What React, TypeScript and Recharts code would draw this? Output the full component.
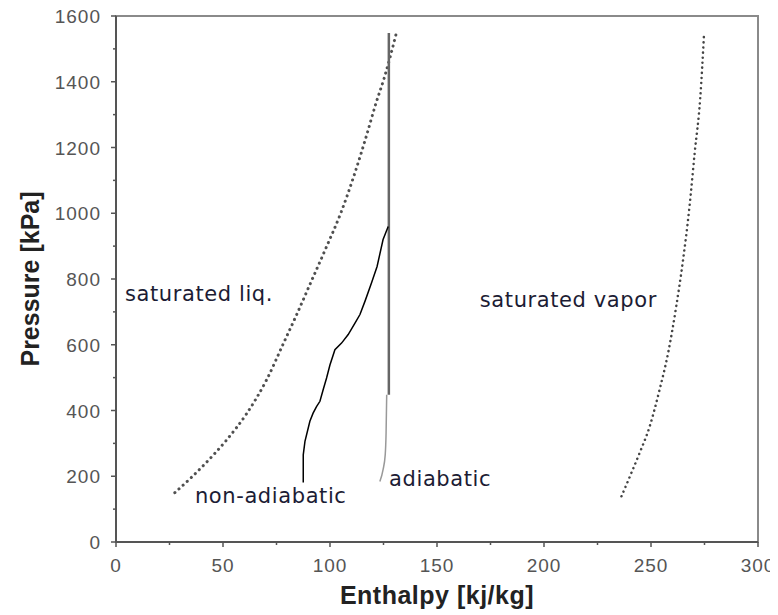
import { LineChart, Line, XAxis, YAxis, ReferenceArea, ReferenceDot, Label } from "recharts";

// enthalpy [kJ/kg] and pressure [kPa]
const satLiquidH = [27.5, 35, 42.5, 51.5, 61, 70.5, 78.3, 84.3, 91.4, 98.5, 105, 111.5, 117, 121.5, 125.5, 128.3, 131];
const satLiquidP = [150, 195, 244, 309, 390, 495, 605, 690, 795, 900, 1000, 1120, 1235, 1335, 1415, 1480, 1548];

const satVaporH = [236.2, 240.5, 244.7, 249.4, 254, 258, 261.8, 265, 268, 270.4, 273, 274.8];
const satVaporP = [139, 205, 271, 352, 463, 575, 717, 859, 1021, 1183, 1350, 1548];

const nonAdiabaticH = [87.5, 87.5, 88.3, 90.6, 92.1, 93.7, 95.3, 96.8, 98.4, 100, 102.3, 105.4, 108.5, 111.6, 114, 116.5, 119.5, 122, 124.8, 127.2];
const nonAdiabaticP = [181, 265, 306, 367, 392, 412, 428, 463, 499, 539, 585, 605, 631, 665, 692, 735, 790, 838, 920, 960];

const adiabaticLowH = [123.3, 124.8, 125.8, 126.2, 126.5];
const adiabaticLowP = [184, 220, 265, 330, 448];
const adiabaticHighH = [127.5, 127.5];
const adiabaticHighP = [448, 1548];

const xTicks = [0, 25, 50, 75, 100, 125, 150, 175, 200, 225, 250, 275, 300];
const yTicks = [0, 100, 200, 300, 400, 500, 600, 700, 800, 900, 1000, 1100, 1200, 1300, 1400, 1500, 1600];

const notes = [
  { text: "saturated liq.", h: 4.2, p: 732 },
  { text: "saturated vapor", h: 170, p: 716 },
  { text: "non-adiabatic", h: 36.9, p: 120 },
  { text: "adiabatic", h: 127.6, p: 169 },
];

const toRows = (hs: number[], ps: number[]) => hs.map((h, i) => ({ h, p: ps[i] }));

const satLiquid = toRows(satLiquidH, satLiquidP);
const satVapor = toRows(satVaporH, satVaporP);
const nonAdiabatic = toRows(nonAdiabaticH, nonAdiabaticP);
const adiabaticLow = toRows(adiabaticLowH, adiabaticLowP);
const adiabaticHigh = toRows(adiabaticHighH, adiabaticHighP);

const tickFont = { fontFamily: "'Liberation Sans', Arial, sans-serif", fontSize: 19, fill: "#555", letterSpacing: 1 };
const titleFont = { fontFamily: "'Liberation Sans', Arial, sans-serif", fontWeight: "bold", fontSize: 25, fill: "#222" };

const XTick = ({ x, y, payload }: any) => {
  const major = payload.value % 50 === 0;
  return (
    <g>
      <line x1={x} y1={y} x2={x} y2={y + (major ? 5 : 3)} stroke="#555" strokeWidth={1.5} />
      {major && (
        <text x={x} y={y + 30} textAnchor="middle" {...tickFont}>
          {payload.value}
        </text>
      )}
    </g>
  );
};

const YTick = ({ x, y, payload }: any) => {
  const major = payload.value % 200 === 0;
  return (
    <g>
      <line x1={x} y1={y} x2={x - (major ? 5 : 3)} y2={y} stroke="#555" strokeWidth={1.5} />
      {major && (
        <text x={x - 15} y={y + 7} textAnchor="end" {...tickFont}>
          {payload.value}
        </text>
      )}
    </g>
  );
};

const Note = ({ cx, cy, text }: any) => (
  <text x={cx} y={cy} fontFamily="'DejaVu Sans', sans-serif" fontSize={21} letterSpacing={0.6} fill="#1c1c34">
    {text}
  </text>
);

export default function App() {
  return (
    <div style={{ marginTop: -8 }}>
      <LineChart
        width={770}
        height={615}
        margin={{ top: 16, right: 20, bottom: 9, left: 8 }}
        style={{ overflow: "visible" }}
      >
        <ReferenceArea x1={0} x2={300} y1={0} y2={1600} fill="none" stroke="#8a8a8a" strokeWidth={2} />
        <XAxis
          dataKey="h"
          type="number"
          domain={[0, 300]}
          ticks={xTicks}
          interval={0}
          height={64}
          tickSize={0}
          tickMargin={0}
          tick={<XTick />}
          tickLine={false}
          axisLine={{ stroke: "#555", strokeWidth: 2 }}
        >
          <Label value="Enthalpy [kj/kg]" position="insideBottom" offset={2} style={{ ...titleFont, letterSpacing: 0.5 }} />
        </XAxis>
        <YAxis
          type="number"
          domain={[0, 1600]}
          ticks={yTicks}
          interval={0}
          width={100}
          tickSize={0}
          tickMargin={0}
          tick={<YTick />}
          tickLine={false}
          axisLine={{ stroke: "#555", strokeWidth: 2 }}
        >
          <Label
            value="Pressure [kPa]"
            angle={-90}
            position="insideLeft"
            offset={14}
            style={{ ...titleFont, textAnchor: "middle" }}
          />
        </YAxis>
        <Line data={satLiquid} dataKey="p" type="monotone" stroke="#505050" strokeWidth={3} strokeDasharray="0.1 5.5" strokeLinecap="round" dot={false} isAnimationActive={false} />
        <Line data={satVapor} dataKey="p" type="monotone" stroke="#444" strokeWidth={2.5} strokeDasharray="0.1 5" strokeLinecap="round" dot={false} isAnimationActive={false} />
        <Line data={adiabaticLow} dataKey="p" type="monotone" stroke="#999" strokeWidth={1.5} dot={false} isAnimationActive={false} />
        <Line data={adiabaticHigh} dataKey="p" type="linear" stroke="#666" strokeWidth={2.5} dot={false} isAnimationActive={false} />
        <Line data={nonAdiabatic} dataKey="p" type="linear" stroke="#000" strokeWidth={1.5} dot={false} isAnimationActive={false} />
        {notes.map((n) => (
          <ReferenceDot key={n.text} x={n.h} y={n.p} r={0} shape={(props: any) => <Note cx={props.cx} cy={props.cy} text={n.text} />} />
        ))}
      </LineChart>
    </div>
  );
}
